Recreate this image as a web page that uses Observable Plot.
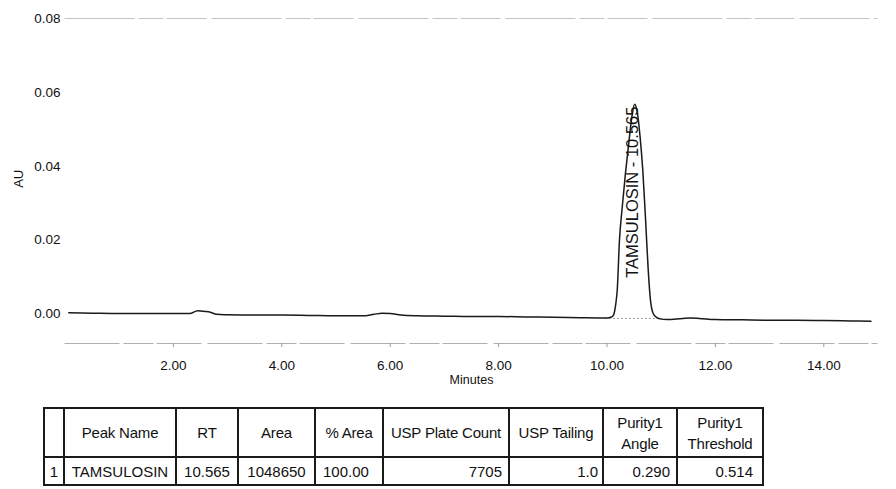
<!DOCTYPE html>
<html>
<head>
<meta charset="utf-8">
<script src="https://cdn.jsdelivr.net/npm/d3@7"></script>
<script src="https://cdn.jsdelivr.net/npm/@observablehq/plot@0.6"></script>
<style>
  html, body { margin: 0; padding: 0; background: #fff; width: 896px; height: 489px; overflow: hidden;
    font-family: "Liberation Sans", Arial, sans-serif; }
  #chart { position: absolute; left: 0; top: 13px; width: 896px; height: 385px; overflow: hidden; }
  #chart svg { display: block; margin-top: -15px; }
  #tbl { position: absolute; left: 43px; top: 407px; border-collapse: collapse; table-layout: fixed;
    font-size: 15px; color: #111; }
  #tbl td { border: 2px solid #1a1a1a; padding: 0; white-space: pre-line; overflow: hidden; }
  #tbl tr.head td { height: 47px; text-align: center; line-height: 21px; letter-spacing: -0.2px; }
  #tbl tr.row td { height: 26px; }
</style>
</head>
<body>
<div id="chart"></div>
<table id="tbl"></table>
<script>
// ---- data ----
const traceTime = [0.07,0.5,1.0,1.5,2.0,2.3,2.45,2.55,2.65,2.8,3.0,3.5,4.0,4.5,5.0,5.5,5.7,5.85,6.0,6.2,6.5,7.0,7.5,8.0,8.5,9.0,9.5,9.9,10.0,10.07,10.12,10.16,10.19,10.23,10.28,10.34,10.40,10.46,10.51,10.56,10.61,10.66,10.71,10.76,10.80,10.85,10.92,11.0,11.1,11.4,11.55,11.7,12.0,12.5,13.0,13.5,14.0,14.5,14.87];
const traceAU = [0.0003,0.0002,0.0001,0.0001,0.0001,0.0001,0.0009,0.0007,0.0006,-0.0001,-0.0002,-0.0003,-0.0003,-0.0004,-0.0005,-0.0005,-0.0001,0.0002,0.0001,-0.0003,-0.0005,-0.0006,-0.0007,-0.0007,-0.0008,-0.0009,-0.0010,-0.0011,-0.0011,-0.0009,-0.0003,0.0025,0.0067,0.0200,0.0287,0.0380,0.0460,0.0535,0.0568,0.0545,0.0480,0.0390,0.0260,0.0120,0.0040,0.0002,-0.0010,-0.0014,-0.0015,-0.0012,-0.0011,-0.0012,-0.0015,-0.0016,-0.0017,-0.0017,-0.0018,-0.0019,-0.0020];

const peakName = "TAMSULOSIN";
const peakRT = 10.565;
const peakLabelAU = 0.0098;
const peakStart = 9.97;
const peakEnd = 11.03;
const peakBaseAU = -0.0012;

const xTicks = [2, 4, 6, 8, 10, 12, 14];
const yTicks = [0, 0.02, 0.04, 0.06, 0.08];
const xDomain = [0, 15];
const yDomain = [-0.008, 0.08];
const xLabel = "Minutes";
const yLabel = "AU";
const yLabelAU = 0.0366;

const tableHeaders = ["", "Peak Name", "RT", "Area", "% Area", "USP Plate Count", "USP Tailing", "Purity1\nAngle", "Purity1\nThreshold"];
const tableRow = ["1", "TAMSULOSIN", "10.565", "1048650", "100.00", "7705", "1.0", "0.290", "0.514"];

// ---- layout / style ----
const colWidths = [20, 112, 62, 77, 68, 126, 94, 74, 86];
const rowAlign = ["center", "center", "center", "center", "left", "right", "right", "right", "right"];
const rowPad = ["0", "0", "0", "0", "0 0 0 7px", "0 6px 0 0", "0 4px 0 0", "0 6px 0 0", "0 9px 0 0"];

const trace = traceTime.map((t, i) => ({t, au: traceAU[i]}));

const chart = Plot.plot({
  width: 896,
  height: 400,
  marginLeft: 64.5,
  marginRight: 18.5,
  marginTop: 20,
  marginBottom: 55,
  x: {domain: xDomain, label: null},
  y: {domain: yDomain, label: null},
  style: {fontFamily: "'Liberation Sans', Arial, sans-serif", fontSize: "13.5px", color: "#111", background: "#fff"},
  marks: [
    Plot.ruleY([yDomain[1]], {stroke: "#c4c4c4", strokeWidth: 1, strokeDasharray: "70,4,25,3,40,5"}),
    Plot.ruleY([yDomain[0]], {stroke: "#b0b0b0", strokeWidth: 1, strokeDasharray: "55,4,30,3,45,6"}),
    Plot.axisX(xTicks, {label: null, tickSize: 4, tickPadding: 13, tickFormat: d => d.toFixed(2), stroke: "#999", fill: "#111", fontSize: 13.5}),
    Plot.axisY(yTicks, {label: null, tickSize: 0, tickPadding: 4.5, tickFormat: d => d.toFixed(2), fill: "#111", fontSize: 13.5}),
    Plot.text([xLabel], {frameAnchor: "bottom", dy: 40, fontSize: 12.5, letterSpacing: "-0.5px", fill: "#111"}),
    Plot.text([yLabel], {x: xDomain[0], y: [yLabelAU], dx: -46.5, rotate: -90, fontSize: 13, fill: "#111"}),
    Plot.ruleY([peakBaseAU], {x1: peakStart, x2: peakEnd, stroke: "#999", strokeDasharray: "2,2"}),
    Plot.line(trace, {x: "t", y: "au", stroke: "#1a1a1a", strokeWidth: 1.5, curve: "monotone-x"}),
    Plot.text([`${peakName} - ${peakRT.toFixed(3)}`], {x: [peakRT], y: [peakLabelAU], dx: -4.5, rotate: -90,
      textAnchor: "start", fontSize: 16.5, fill: "#111"})
  ]
});
document.getElementById("chart").appendChild(chart);

// ---- table ----
const tbl = document.getElementById("tbl");
const cg = document.createElement("colgroup");
colWidths.forEach(w => { const c = document.createElement("col"); c.style.width = w + "px"; cg.appendChild(c); });
tbl.appendChild(cg);
const trH = document.createElement("tr"); trH.className = "head";
tableHeaders.forEach(h => { const td = document.createElement("td"); td.textContent = h; trH.appendChild(td); });
tbl.appendChild(trH);
const trR = document.createElement("tr"); trR.className = "row";
tableRow.forEach((v, i) => { const td = document.createElement("td"); td.textContent = v;
  td.style.textAlign = rowAlign[i]; td.style.padding = rowPad[i]; trR.appendChild(td); });
tbl.appendChild(trR);
tbl.style.width = colWidths.reduce((a, b) => a + b, 0) + "px";
</script>
</body>
</html>
